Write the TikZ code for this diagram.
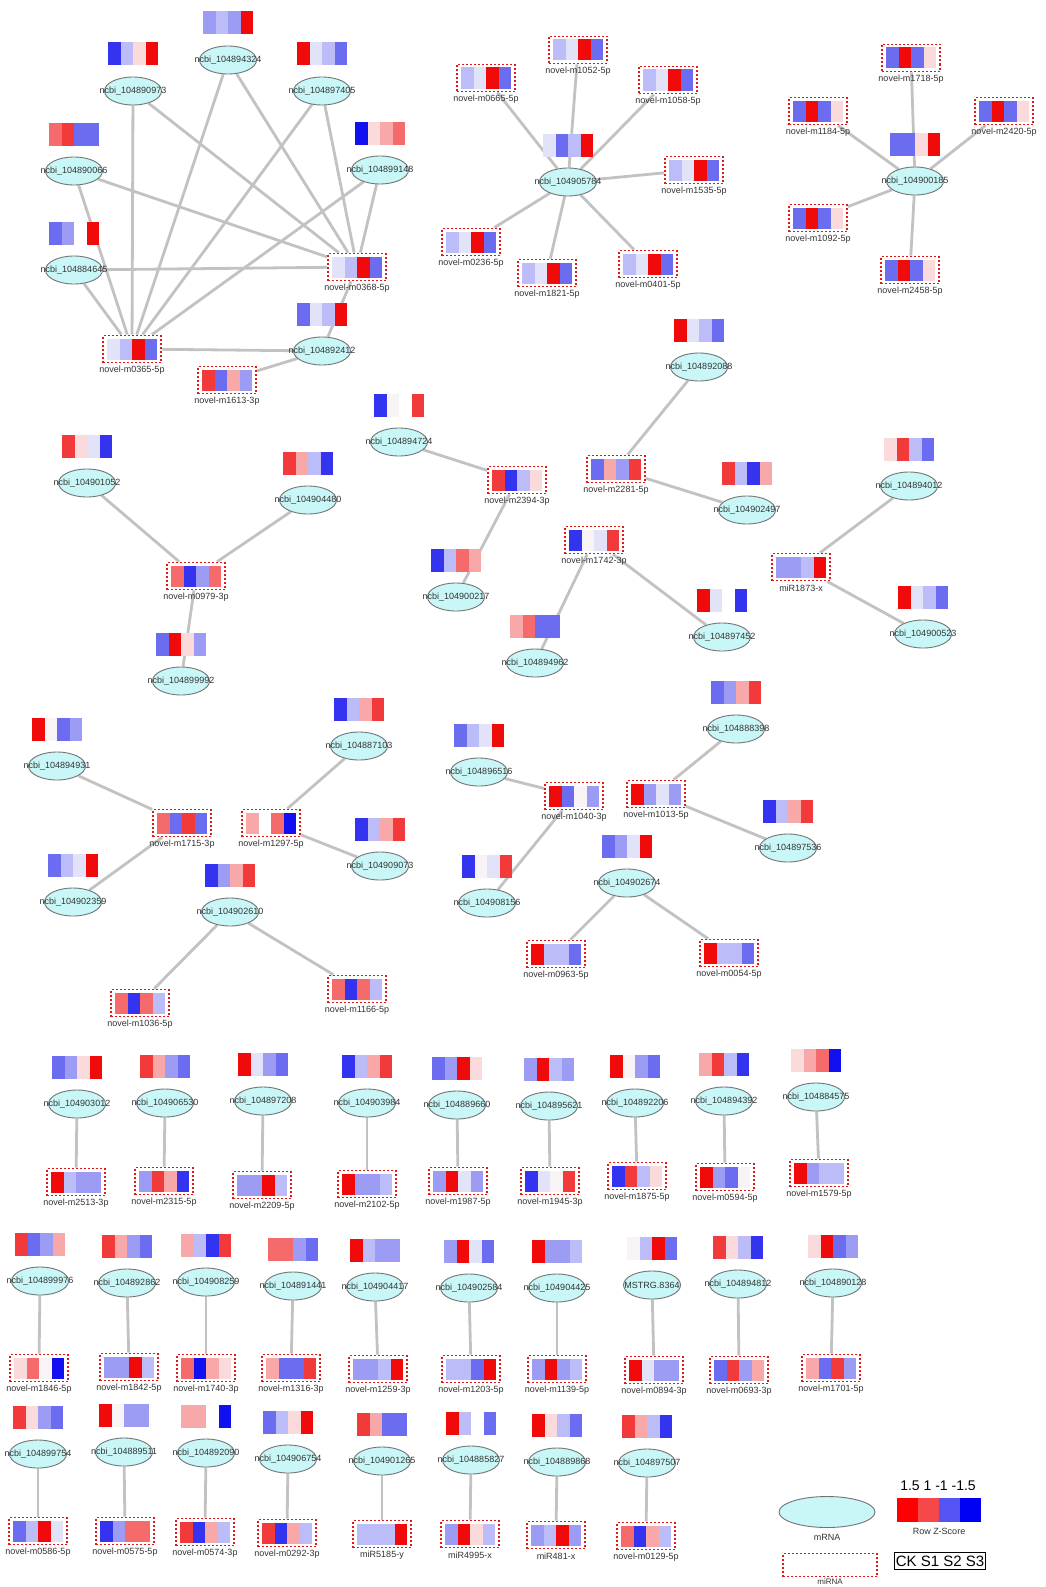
\documentclass[tikz,border=0pt]{standalone}
\usepackage{fontspec}
\setmainfont{Liberation Sans}
\usetikzlibrary{shapes.geometric}
\pgfdeclarelayer{back}\pgfdeclarelayer{bg}\pgfsetlayers{back,bg,main}
\definecolor{hR}{HTML}{F00A0A}
\definecolor{hr}{HTML}{F23A3A}
\definecolor{hm}{HTML}{F56A6A}
\definecolor{hp}{HTML}{F8A8A8}
\definecolor{hq}{HTML}{FADADA}
\definecolor{hW}{HTML}{F8F4F6}
\definecolor{hw}{HTML}{E2E2F8}
\definecolor{hl}{HTML}{BCBCF8}
\definecolor{hb}{HTML}{9C9CF4}
\definecolor{hB}{HTML}{6C6CF0}
\definecolor{hD}{HTML}{3434F0}
\definecolor{hDD}{HTML}{1010F0}
\definecolor{cy}{HTML}{C9F7F7}
\definecolor{dred}{HTML}{E01818}
\definecolor{lgR}{HTML}{FF0000}
\definecolor{lgr}{HTML}{F54848}
\definecolor{lgB}{HTML}{5555F5}
\definecolor{lgD}{HTML}{0000F5}
\tikzset{
 mrna/.style={ellipse, draw=black!55, fill=cy, line width=0.9pt, minimum width=57pt, minimum height=28pt, inner sep=0pt},
 mibox/.style={draw=dred, line width=1.8pt, dash pattern=on 2pt off 2pt, minimum width=58pt, minimum height=27pt, inner sep=0pt},
 lab/.style={font=\fontsize{9}{9}\selectfont, text=black!80, inner sep=0pt},
 conn/.style={draw=black!24, line width=2.8pt},
}
\newcommand\cells[7]{%
 \fill[#4] (#1-25,#2-#3/2) rectangle ++(12.7,#3);
 \fill[#5] (#1-12.5,#2-#3/2) rectangle ++(12.7,#3);
 \fill[#6] (#1,#2-#3/2) rectangle ++(12.7,#3);
 \fill[#7] (#1+12.5,#2-#3/2) rectangle ++(12.5,#3);
}
\newcommand\addmr[8]{%
 \node[mrna] (#1) at (#2,#3) {};
 \node[lab] at (#1.center) {#4};
 \cells{#2}{#3-37}{23}{#5}{#6}{#7}{#8}
}
\newcommand\addmi[8]{%
 \node[mibox] (#1) at (#2,#3) {};
 \cells{#2}{#3}{21}{#5}{#6}{#7}{#8}
 \node[lab] at ([yshift=-6.5pt]#1.south) {#4};
}
\begin{document}
\begin{tikzpicture}[x=1pt,y=-1pt]
\useasboundingbox (0,0) rectangle (1046,1587);
\begin{pgfonlayer}{back}
\fill[white] (0,0) rectangle (1046,1587);
\end{pgfonlayer}
% cluster 1
\addmr{a894324}{228}{60}{ncbi\_104894324}{hb}{hl}{hb}{hR}
\addmr{a890973}{133}{91}{ncbi\_104890973}{hD}{hl}{hq}{hR}
\addmr{a897405}{322}{91}{ncbi\_104897405}{hR}{hw}{hl}{hB}
\addmr{a890066}{74}{171}{ncbi\_104890066}{hm}{hr}{hB}{hB}
\addmr{a899148}{380}{170}{ncbi\_104899148}{hDD}{hq}{hp}{hm}
\addmr{a884645}{74}{270}{ncbi\_104884645}{hB}{hb}{white}{hR}
\addmi{m0368}{357}{267}{novel-m0368-5p}{hw}{hl}{hR}{hB}
\addmi{m0365}{132}{349}{novel-m0365-5p}{hw}{hl}{hR}{hB}
\addmr{a892412}{322}{351}{ncbi\_104892412}{hB}{hw}{hl}{hR}
\addmi{m1613}{227}{380}{novel-m1613-3p}{hr}{hB}{hp}{hb}
% cluster 2
\addmr{a905784}{568}{182}{ncbi\_104905784}{hw}{hB}{hl}{hR}
\addmi{m1052}{578}{50}{novel-m1052-5p}{hl}{hw}{hR}{hB}
\addmi{m0665}{486}{78}{novel-m0665-5p}{hl}{hw}{hR}{hB}
\addmi{m1058}{668}{80}{novel-m1058-5p}{hl}{hw}{hR}{hB}
\addmi{m1535}{694}{170}{novel-m1535-5p}{hl}{hw}{hR}{hB}
\addmi{m0236}{471}{242}{novel-m0236-5p}{hl}{hw}{hR}{hB}
\addmi{m1821}{547}{273}{novel-m1821-5p}{hl}{hw}{hR}{hB}
\addmi{m0401}{648}{264}{novel-m0401-5p}{hl}{hw}{hR}{hB}
% cluster 3
\addmr{a900185}{915}{181}{ncbi\_104900185}{hB}{hB}{hq}{hR}
\addmi{m1718}{911}{58}{novel-m1718-5p}{hB}{hR}{hB}{hq}
\addmi{m1184}{818}{111}{novel-m1184-5p}{hB}{hR}{hB}{hq}
\addmi{m2420}{1004}{111}{novel-m2420-5p}{hB}{hR}{hB}{hq}
\addmi{m1092}{818}{218}{novel-m1092-5p}{hB}{hR}{hB}{hq}
\addmi{m2458}{910}{270}{novel-m2458-5p}{hB}{hR}{hB}{hq}
% cluster 4
\addmr{a901052}{87}{483}{ncbi\_104901052}{hr}{hq}{hw}{hD}
\addmr{a904480}{308}{500}{ncbi\_104904480}{hr}{hp}{hl}{hD}
\addmi{m0979}{196}{576}{novel-m0979-3p}{hm}{hD}{hb}{hm}
\addmr{a899992}{181}{681}{ncbi\_104899992}{hB}{hR}{hq}{hb}
% cluster 5-8
\addmr{a894724}{399}{442}{ncbi\_104894724}{hD}{hW}{white}{hr}
\addmi{m2394}{517}{480}{novel-m2394-3p}{hr}{hD}{hl}{hq}
\addmr{a900217}{456}{597}{ncbi\_104900217}{hD}{hl}{hm}{hp}
\addmr{a892088}{699}{367}{ncbi\_104892088}{hR}{hw}{hl}{hB}
\addmi{m2281}{616}{469}{novel-m2281-5p}{hB}{hp}{hb}{hr}
\addmr{a902497}{747}{510}{ncbi\_104902497}{hr}{hl}{hD}{hp}
\addmi{m1742}{594}{540}{novel-m1742-3p}{hD}{hW}{hw}{hr}
\addmr{a894962}{535}{663}{ncbi\_104894962}{hp}{hm}{hB}{hB}
\addmr{a897452}{722}{637}{ncbi\_104897452}{hR}{hw}{white}{hD}
\addmr{a894012}{909}{486}{ncbi\_104894012}{hq}{hr}{hl}{hB}
\addmi{mir1873}{801}{567}{miR1873-x}{hb}{hb}{hl}{hR}
\addmr{a900523}{923}{634}{ncbi\_104900523}{hR}{hw}{hl}{hB}
% cluster 9-14
\addmr{a894931}{57}{766}{ncbi\_104894931}{hR}{hW}{hB}{hb}
\addmi{m1715}{182}{823}{novel-m1715-3p}{hm}{hB}{hr}{hB}
\addmr{a902359}{73}{902}{ncbi\_104902359}{hB}{hl}{hw}{hR}
\addmi{m1297}{271}{823}{novel-m1297-5p}{hp}{white}{hm}{hDD}
\addmr{a887103}{359}{746}{ncbi\_104887103}{hD}{hl}{hp}{hr}
\addmr{a909073}{380}{866}{ncbi\_104909073}{hD}{hl}{hp}{hr}
\addmr{a902610}{230}{912}{ncbi\_104902610}{hD}{hb}{hp}{hr}
\addmi{m1036}{140}{1003}{novel-m1036-5p}{hm}{hD}{hm}{hl}
\addmi{m1166}{357}{989}{novel-m1166-5p}{hm}{hD}{hm}{hl}
\addmr{a896516}{479}{772}{ncbi\_104896516}{hB}{hl}{hw}{hR}
\addmi{m1040}{574}{796}{novel-m1040-3p}{hR}{hB}{hW}{hb}
\addmr{a908156}{487}{903}{ncbi\_104908156}{hD}{hW}{hw}{hr}
\addmr{a888398}{736}{729}{ncbi\_104888398}{hB}{hb}{hp}{hr}
\addmi{m1013}{656}{794}{novel-m1013-5p}{hR}{hb}{hw}{hb}
\addmr{a897536}{788}{848}{ncbi\_104897536}{hD}{hl}{hp}{hr}
\addmr{a902674}{627}{883}{ncbi\_104902674}{hB}{hb}{hw}{hR}
\addmi{m0963}{556}{954}{novel-m0963-5p}{hR}{hl}{hl}{hB}
\addmi{m0054}{729}{953}{novel-m0054-5p}{hR}{hl}{hl}{hB}
% row 1
\addmr{b1}{77}{1104}{ncbi\_104903012}{hB}{hb}{hq}{hR}
\addmi{c1}{76}{1182}{novel-m2513-3p}{hR}{hl}{hb}{hb}
\addmr{b2}{165}{1103}{ncbi\_104906530}{hr}{hp}{hb}{hB}
\addmi{c2}{164}{1181}{novel-m2315-5p}{hb}{hr}{hp}{hD}
\addmr{b3}{263}{1101}{ncbi\_104897208}{hR}{hw}{hb}{hB}
\addmi{c3}{262}{1185}{novel-m2209-5p}{hb}{hb}{hR}{hl}
\addmr{b4}{367}{1103}{ncbi\_104903984}{hD}{hl}{hp}{hr}
\addmi{c4}{367}{1184}{novel-m2102-5p}{hR}{hb}{hb}{hl}
\addmr{b5}{457}{1105}{ncbi\_104889660}{hB}{hb}{hR}{hq}
\addmi{c5}{458}{1181}{novel-m1987-5p}{hb}{hR}{hw}{hb}
\addmr{b6}{549}{1106}{ncbi\_104895621}{hb}{hR}{hl}{hb}
\addmi{c6}{550}{1181}{novel-m1945-3p}{hD}{hw}{hW}{hr}
\addmr{b7}{635}{1103}{ncbi\_104892206}{hR}{hW}{hb}{hB}
\addmi{c7}{637}{1176}{novel-m1875-5p}{hD}{hr}{hl}{hq}
\addmr{b8}{724}{1101}{ncbi\_104894392}{hp}{hr}{hl}{hD}
\addmi{c8}{725}{1177}{novel-m0594-5p}{hR}{hb}{hB}{hW}
\addmr{b9}{816}{1097}{ncbi\_104884575}{hq}{hp}{hm}{hDD}
\addmi{c9}{819}{1173}{novel-m1579-5p}{hR}{hb}{hl}{hl}
% row 2
\addmr{d1}{40}{1281}{ncbi\_104899976}{hr}{hB}{hb}{hp}
\addmi{e1}{39}{1368}{novel-m1846-5p}{hq}{hm}{hW}{hDD}
\addmr{d2}{127}{1283}{ncbi\_104892862}{hr}{hp}{hb}{hB}
\addmi{e2}{129}{1367}{novel-m1842-5p}{hb}{hb}{hR}{hl}
\addmr{d3}{206}{1282}{ncbi\_104908259}{hp}{hl}{hD}{hr}
\addmi{e3}{206}{1368}{novel-m1740-3p}{hm}{hDD}{hp}{hq}
\addmr{d4}{293}{1286}{ncbi\_104891441}{hm}{hm}{hb}{hB}
\addmi{e4}{291}{1368}{novel-m1316-3p}{hp}{hB}{hB}{hr}
\addmr{d5}{375}{1287}{ncbi\_104904417}{hR}{hl}{hb}{hb}
\addmi{e5}{378}{1369}{novel-m1259-3p}{hb}{hb}{hl}{hR}
\addmr{d6}{469}{1288}{ncbi\_104902584}{hb}{hR}{hw}{hB}
\addmi{e6}{471}{1369}{novel-m1203-5p}{hl}{hl}{hB}{hR}
\addmr{d7}{557}{1288}{ncbi\_104904425}{hR}{hb}{hb}{hl}
\addmi{e7}{557}{1369}{novel-m1139-5p}{hb}{hR}{hb}{hl}
\addmr{d8}{652}{1285}{MSTRG.8364}{hW}{hl}{hR}{hB}
\addmi{e8}{654}{1370}{novel-m0894-3p}{hR}{hw}{hb}{hb}
\addmr{d9}{738}{1284}{ncbi\_104894812}{hr}{hq}{hl}{hD}
\addmi{e9}{739}{1370}{novel-m0693-3p}{hB}{hr}{hb}{hp}
\addmr{d10}{833}{1283}{ncbi\_104890128}{hq}{hR}{hB}{hb}
\addmi{e10}{831}{1368}{novel-m1701-5p}{hp}{hB}{hr}{hb}
% row 3
\addmr{f1}{38}{1454}{ncbi\_104899754}{hr}{hq}{hb}{hB}
\addmi{g1}{38}{1531}{novel-m0586-5p}{hB}{hl}{hR}{hw}
\addmr{f2}{124}{1452}{ncbi\_104889511}{hR}{hW}{hb}{hb}
\addmi{g2}{125}{1531}{novel-m0575-5p}{hD}{hb}{hm}{hm}
\addmr{f3}{206}{1453}{ncbi\_104892090}{hp}{hp}{white}{hDD}
\addmi{g3}{205}{1532}{novel-m0574-3p}{hr}{hD}{hp}{hl}
\addmr{f4}{288}{1459}{ncbi\_104906754}{hB}{hl}{hq}{hR}
\addmi{g4}{287}{1533}{novel-m0292-3p}{hr}{hD}{hp}{hl}
\addmr{f5}{382}{1461}{ncbi\_104901265}{hr}{hp}{hB}{hB}
\addmi{g5}{382}{1534}{miR5185-y}{hl}{hl}{hl}{hR}
\addmr{f6}{471}{1460}{ncbi\_104885827}{hR}{hl}{white}{hB}
\addmi{g6}{470}{1534}{miR4995-x}{hb}{hR}{hq}{hl}
\addmr{f7}{557}{1462}{ncbi\_104889868}{hR}{hq}{hl}{hB}
\addmi{g7}{556}{1535}{miR481-x}{hb}{hl}{hR}{hb}
\addmr{f8}{647}{1463}{ncbi\_104897507}{hr}{hp}{hl}{hD}
\addmi{g8}{646}{1536}{novel-m0129-5p}{hm}{hD}{hp}{hl}
% legend
\node[mrna, minimum width=96pt, minimum height=31pt] (lgm) at (827,1512) {};
\node[lab] (lgmt) at (827,1537) {mRNA};
\node[mibox, minimum width=94pt, minimum height=23pt] (lgi) at (830,1565) {};
\node[lab, font=\fontsize{8}{8}\selectfont] (lgit) at (830,1581.5) {miRNA};
\node[inner sep=0pt, font=\fontsize{14}{14}\selectfont] (lgn) at (938,1486) {1.5 1 -1 -1.5};
\fill[lgR] (897,1498) rectangle ++(21.2,24);
\fill[lgr] (918,1498) rectangle ++(21.2,24);
\fill[lgB] (939,1498) rectangle ++(21.2,24);
\fill[lgD] (960,1498) rectangle ++(21,24);
\node[lab] (lgz) at (939,1531) {Row Z-Score};
\node[draw, line width=0.6pt, inner xsep=1.5pt, inner ysep=0pt, minimum height=17pt, font=\fontsize{15}{15}\selectfont] (lgc) at (940,1561) {CK S1 S2 S3};
% connectors
\begin{pgfonlayer}{bg}
\foreach \a in {a890066,a884645,a890973,a894324,a897405,a899148,a892412}{
 \draw[conn] (m0365) -- (\a);
 \draw[conn] (m0368) -- (\a);
}
\draw[conn] (a892412) -- (m1613);
\foreach \b in {m1052,m0665,m1058,m1535,m0236,m1821,m0401} \draw[conn] (a905784) -- (\b);
\foreach \b in {m1718,m1184,m2420,m1092,m2458} \draw[conn] (a900185) -- (\b);
\draw[conn] (a901052) -- (m0979);
\draw[conn] (a904480) -- (m0979);
\draw[conn] (m0979) -- (a899992);
\draw[conn] (a894724) -- (m2394);
\draw[conn] (m2394) -- (a900217);
\draw[conn] (a892088) -- (m2281);
\draw[conn] (m2281) -- (a902497);
\draw[conn] (m1742) -- (a894962);
\draw[conn] (m1742) -- (a897452);
\draw[conn] (mir1873) -- (a894012);
\draw[conn] (mir1873) -- (a900523);
\draw[conn] (a894931) -- (m1715);
\draw[conn] (a902359) -- (m1715);
\draw[conn] (a887103) -- (m1297);
\draw[conn] (m1297) -- (a909073);
\draw[conn] (a902610) -- (m1036);
\draw[conn] (a902610) -- (m1166);
\draw[conn] (a896516) -- (m1040);
\draw[conn] (m1040) -- (a908156);
\draw[conn] (a888398) -- (m1013);
\draw[conn] (m1013) -- (a897536);
\draw[conn] (a902674) -- (m0963);
\draw[conn] (a902674) -- (m0054);
\foreach \i in {1,...,9} \draw[conn] (b\i) -- (c\i);
\foreach \i in {1,...,10} \draw[conn] (d\i) -- (e\i);
\foreach \i in {1,...,8} \draw[conn] (f\i) -- (g\i);
\end{pgfonlayer}
\end{tikzpicture}
\end{document}
